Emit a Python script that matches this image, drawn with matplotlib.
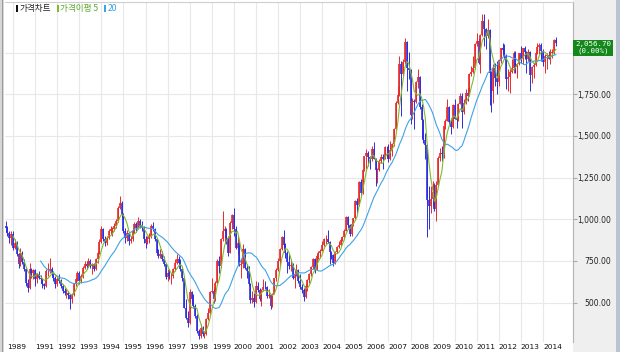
import numpy as np
import pandas as pd
import matplotlib
matplotlib.use("Agg")
import matplotlib.pyplot as plt
from matplotlib.patches import Rectangle
from matplotlib.transforms import blended_transform_factory

# Monthly index bars, Sep 1989 .. Aug 2014
START = "1989-09"

opens = [
    960, 947, 917, 885,
    910, 830, 855, 790, 730, 800, 745, 700, 620, 585, 700, 675,
    696, 640, 670, 650, 640, 610, 600, 690, 690, 700, 680, 650,
    610, 640, 630, 600, 570, 560, 560, 545, 520, 545, 610, 640,
    678, 630, 660, 710, 730, 720, 750, 720, 730, 700, 760, 800,
    866, 940, 880, 860, 890, 930, 940, 940, 960, 990, 1070, 1100,
    1027, 930, 890, 920, 870, 880, 930, 970, 950, 990, 960, 950,
    882, 860, 880, 900, 960, 940, 880, 800, 780, 790, 760, 730,
    651, 680, 660, 660, 700, 740, 760, 740, 700, 650, 470, 410,
    376, 565, 520, 480, 420, 330, 300, 350, 310, 310, 400, 440,
    562, 570, 520, 620, 750, 720, 880, 930, 940, 890, 800, 980,
    1028, 943, 828, 860, 725, 731, 822, 705, 688, 613, 514, 526,
    504, 602, 574, 523, 578, 596, 595, 542, 545, 479, 552, 646,
    694, 752, 823, 894, 847, 797, 743, 718, 726, 646, 669, 695,
    628, 592, 575, 535, 600, 634, 670, 711, 760, 697, 779, 796,
    810, 848, 880, 880, 863, 803, 785, 735, 803, 835, 845, 878,
    896, 932, 1011, 965, 911, 970, 1008, 1112, 1083, 1221, 1158, 1297,
    1379, 1399, 1371, 1359, 1419, 1364, 1295, 1297, 1352, 1371, 1364, 1432,
    1434, 1360, 1417, 1453, 1542, 1700, 1744, 1933, 1873, 1946, 2065, 1906,
    1897, 1625, 1712, 1704, 1825, 1853, 1674, 1595, 1474, 1448, 1113, 1077,
    1124, 1162, 1063, 1206, 1369, 1396, 1390, 1557, 1592, 1673, 1581, 1555,
    1683, 1602, 1594, 1692, 1741, 1641, 1698, 1759, 1742, 1873, 1883, 1905,
    2051, 2069, 1939, 2107, 2192, 2142, 2101, 2133, 1880, 1770, 1910, 1848,
    1826, 1956, 2030, 2014, 1982, 1844, 1854, 1881, 1906, 1996, 1912, 1933,
    1997, 1962, 2027, 2005, 1964, 2001, 1863, 1914, 1926, 1997, 2031, 2045,
    2011, 1941, 1980, 1986, 1962, 1995, 2002, 2076,
]
highs = [
    990, 960, 930, 930,
    928, 880, 870, 800, 830, 810, 760, 705, 640, 740, 710, 700,
    700, 680, 690, 665, 650, 620, 700, 740, 770, 712, 690, 660,
    660, 670, 640, 610, 590, 580, 570, 550, 560, 620, 650, 690,
    690, 670, 720, 750, 750, 770, 760, 740, 740, 770, 810, 880,
    960, 950, 900, 900, 940, 960, 955, 975, 1000, 1080, 1138, 1110,
    1040, 950, 935, 925, 900, 940, 985, 985, 1016, 1000, 990, 960,
    900, 900, 920, 970, 986, 950, 890, 820, 820, 810, 780, 740,
    700, 700, 680, 710, 760, 792, 780, 760, 710, 660, 520, 450,
    580, 570, 550, 490, 430, 340, 370, 360, 330, 410, 470, 570,
    650, 590, 630, 760, 780, 890, 1052, 960, 950, 900, 990, 1030,
    1066, 960, 900, 870, 760, 850, 830, 730, 720, 620, 570, 560,
    630, 625, 590, 580, 640, 630, 600, 580, 550, 560, 650, 710,
    770, 830, 900, 937, 860, 810, 800, 760, 740, 690, 730, 700,
    670, 610, 590, 610, 640, 680, 720, 770, 770, 790, 810, 820,
    870, 890, 905, 936, 870, 810, 790, 810, 840, 870, 890, 900,
    940, 1020, 1022, 970, 975, 1010, 1115, 1130, 1230, 1240, 1300, 1380,
    1421, 1410, 1380, 1440, 1465, 1370, 1310, 1360, 1390, 1390, 1440, 1440,
    1450, 1470, 1460, 1550, 1710, 1800, 1980, 1950, 1960, 2085, 2070, 2005,
    1900, 1730, 1720, 1830, 1900, 1860, 1690, 1600, 1520, 1450, 1200, 1200,
    1230, 1220, 1230, 1380, 1430, 1440, 1560, 1600, 1720, 1680, 1610, 1690,
    1720, 1620, 1700, 1760, 1760, 1720, 1780, 1790, 1880, 1920, 1980, 2060,
    2120, 2090, 2110, 2230, 2231, 2150, 2200, 2140, 1890, 1930, 1940, 1950,
    1960, 2030, 2057, 2050, 1990, 1900, 1900, 1960, 2010, 2010, 1940, 2000,
    2040, 2030, 2040, 2010, 2020, 2010, 1920, 1940, 2010, 2060, 2060, 2060,
    2020, 1990, 2000, 2010, 2020, 2020, 2082, 2093,
]
lows = [
    925, 900, 860, 845,
    815, 820, 780, 705, 720, 730, 690, 600, 566, 580, 650, 640,
    600, 620, 640, 615, 590, 580, 595, 660, 675, 660, 630, 590,
    600, 615, 590, 555, 545, 530, 520, 459, 500, 540, 600, 630,
    610, 620, 650, 700, 700, 715, 705, 670, 690, 695, 740, 790,
    860, 870, 840, 845, 880, 910, 900, 930, 950, 985, 1060, 1010,
    920, 860, 870, 847, 855, 870, 920, 930, 940, 950, 930, 860,
    830, 850, 860, 890, 930, 870, 790, 770, 765, 750, 720, 640,
    630, 640, 610, 650, 690, 730, 730, 690, 630, 470, 400, 351,
    370, 490, 470, 410, 320, 280, 290, 300, 290, 305, 395, 430,
    560, 500, 510, 610, 680, 710, 870, 860, 850, 780, 795, 940,
    900, 820, 790, 720, 650, 710, 700, 650, 600, 500, 495, 475,
    500, 565, 510, 480, 570, 580, 530, 530, 463, 475, 550, 630,
    690, 720, 815, 830, 770, 680, 700, 690, 640, 585, 660, 620,
    580, 560, 512, 530, 570, 620, 660, 700, 680, 695, 760, 770,
    810, 840, 850, 860, 730, 760, 719, 730, 800, 830, 840, 870,
    880, 930, 950, 900, 900, 960, 1000, 1040, 1080, 1140, 1150, 1290,
    1300, 1320, 1300, 1350, 1360, 1200, 1220, 1290, 1340, 1300, 1360, 1370,
    1345, 1355, 1380, 1440, 1540, 1690, 1740, 1620, 1860, 1930, 1770, 1840,
    1570, 1600, 1540, 1700, 1790, 1660, 1490, 1460, 1360, 892, 940, 1040,
    1080, 1050, 990, 1200, 1350, 1350, 1370, 1540, 1590, 1570, 1510, 1550,
    1600, 1550, 1590, 1690, 1550, 1630, 1690, 1710, 1740, 1860, 1880, 1900,
    2040, 1930, 1880, 2100, 2040, 2020, 2090, 1684, 1644, 1700, 1800, 1750,
    1800, 1940, 1990, 1960, 1780, 1770, 1760, 1880, 1880, 1880, 1850, 1925,
    1940, 1930, 1960, 1880, 1950, 1770, 1820, 1850, 1920, 1990, 1990, 1950,
    1920, 1880, 1900, 1960, 1930, 1970, 1990, 2040,
]
closes = [
    947, 917, 885, 910,
    830, 855, 790, 730, 800, 745, 700, 620, 585, 700, 675, 696,
    640, 670, 650, 640, 610, 600, 690, 690, 700, 680, 650, 610,
    640, 630, 600, 570, 560, 560, 545, 520, 545, 610, 640, 678,
    630, 660, 710, 730, 720, 750, 720, 730, 700, 760, 800, 866,
    940, 880, 860, 890, 930, 940, 940, 960, 990, 1070, 1100, 1027,
    930, 890, 920, 870, 880, 930, 970, 950, 990, 960, 950, 882,
    860, 880, 900, 960, 940, 880, 800, 780, 790, 760, 730, 651,
    680, 660, 660, 700, 740, 760, 740, 700, 650, 470, 410, 376,
    565, 520, 480, 420, 330, 300, 350, 310, 310, 400, 440, 562,
    570, 520, 620, 750, 720, 880, 930, 940, 890, 800, 980, 1028,
    943, 828, 860, 725, 731, 822, 705, 688, 613, 514, 526, 504,
    602, 574, 523, 578, 596, 595, 542, 545, 479, 552, 646, 694,
    752, 823, 894, 847, 797, 743, 718, 726, 646, 669, 695, 628,
    592, 575, 535, 600, 634, 670, 711, 760, 697, 779, 796, 810,
    848, 880, 880, 863, 803, 785, 735, 803, 835, 845, 878, 896,
    932, 1011, 965, 911, 970, 1008, 1112, 1083, 1221, 1158, 1297, 1379,
    1399, 1371, 1359, 1419, 1364, 1295, 1297, 1352, 1371, 1364, 1432, 1434,
    1360, 1417, 1453, 1542, 1700, 1744, 1933, 1873, 1946, 2065, 1906, 1897,
    1625, 1712, 1704, 1825, 1853, 1674, 1595, 1474, 1448, 1113, 1077, 1124,
    1162, 1063, 1206, 1369, 1396, 1390, 1557, 1592, 1673, 1581, 1555, 1683,
    1602, 1594, 1692, 1741, 1641, 1698, 1759, 1742, 1873, 1883, 1905, 2051,
    2069, 1939, 2107, 2192, 2142, 2101, 2133, 1880, 1770, 1910, 1848, 1826,
    1956, 2030, 2014, 1982, 1844, 1854, 1881, 1906, 1996, 1912, 1933, 1997,
    1962, 2027, 2005, 1964, 2001, 1863, 1914, 1926, 1997, 2031, 2045, 2011,
    1941, 1980, 1986, 1962, 1995, 2002, 2076, 2056.7,
]

last_price = 2056.70
last_change = 0.00
y_ticks = [500, 750, 1000, 1250, 1500, 1750, 2000]

W, H = 620, 352
UP, DOWN = "#e82a2a", "#2e2edc"
MA5_C, MA20_C = "#7dbb2e", "#3ea3e4"
KR = ["Noto Sans CJK KR", "DejaVu Sans"]
LBL = "DejaVu Sans"


def main():
    dates = pd.date_range(START, periods=len(closes), freq="MS")
    df = pd.DataFrame({"o": opens, "h": highs, "l": lows, "c": closes}, index=dates)
    idx = np.arange(len(df))
    up = df["c"] >= df["o"]
    cols = np.where(up, UP, DOWN)

    fig = plt.figure(figsize=(W / 100, H / 100), dpi=100, facecolor="white")

    # right price-scale panel and borders
    fig.add_artist(Rectangle((573 / W, 0), 43 / W, 1, transform=fig.transFigure,
                             facecolor="#efefef", edgecolor="none", zorder=0))
    fig.add_artist(Rectangle((616 / W, 0), 4 / W, 1, transform=fig.transFigure,
                             facecolor="#b9c3d3", edgecolor="none", zorder=0))
    fig.add_artist(Rectangle((0, 0), 4 / W, 1, transform=fig.transFigure,
                             facecolor="#d6d6d6", edgecolor="none", zorder=0))
    fig.add_artist(Rectangle((1.5 / W, 0), 1 / W, 1, transform=fig.transFigure,
                             facecolor="#9a9a9a", edgecolor="none", zorder=0))

    ax = fig.add_axes([5 / W, 1 - 342 / H, 568 / W, 340 / H])
    ax.set_facecolor("white")

    # candles: wick + body
    ax.vlines(idx, df["l"], df["h"], colors=cols, linewidth=0.7, zorder=2)
    ax.vlines(idx, np.minimum(df["o"], df["c"]), np.maximum(df["o"], df["c"]),
              colors=cols, linewidth=1.2, zorder=2)

    ma5 = df["c"].rolling(5).mean()
    ma20 = df["c"].rolling(20).mean()
    ax.plot(idx, ma20, color=MA20_C, linewidth=0.8, zorder=3)
    ax.plot(idx, ma5, color=MA5_C, linewidth=0.8, zorder=4)

    ax.set_xlim(-0.35, 308.3)
    ax.set_ylim(264, 2303)

    # year gridlines at each January
    jan = [i for i, d in enumerate(dates) if d.month == 1]
    ax.set_xticks(jan)
    ax.set_xticklabels(["" if dates[i].year == 1990 else str(dates[i].year) for i in jan],
                       ha="left", fontsize=5.4, family=LBL, color="#111111")
    ax.tick_params(axis="x", length=0, pad=1.5)
    trans = blended_transform_factory(ax.transData, ax.transAxes)
    ax.text(0.7, -0.0058, str(dates[0].year), transform=trans, ha="left", va="top",
            fontsize=5.4, family=LBL, color="#111111")

    ax.yaxis.tick_right()
    ax.set_yticks(y_ticks)
    ax.set_yticklabels(["" if v == 2000 else f"{v:,.2f}" for v in y_ticks],
                       ha="right", fontsize=5.5, family=LBL, color="#222222")
    ax.tick_params(axis="y", length=3, color="#a8a8a8", pad=24.5)

    ax.grid(True, color="#e8e8e8", linewidth=0.8, zorder=0)
    ax.set_axisbelow(True)
    for side in ("left", "bottom"):
        ax.spines[side].set_visible(False)
    ax.spines["right"].set_color("#b4b4b4")
    ax.spines["top"].set_color("#cfcfcf")
    for s in ("right", "top"):
        ax.spines[s].set_linewidth(0.8)

    # current price box
    ytr = blended_transform_factory(ax.transAxes, ax.transData)
    ax.text(1.0352, 2028, f"{last_price:,.2f}\n({last_change:.2f}%)", transform=ytr,
            ha="center", va="center", fontsize=5.4, family="DejaVu Sans Mono",
            color="white", linespacing=1.1, clip_on=False, zorder=6,
            bbox=dict(boxstyle="square,pad=0.25", facecolor="#12891a", edgecolor="none"))

    # legend strip
    items = [(15.5, "#111111", 20, "가격차트", "#222222"),
             (56.5, MA5_C, 60, "가격이평 5", "#5aa72a"),
             (103.5, MA20_C, 107.5, "20", "#3a9de0")]
    for mx, mc, tx, label, tc in items:
        fig.add_artist(Rectangle((mx / W, 1 - 11.5 / H), 2 / W, 6 / H,
                                 transform=fig.transFigure, facecolor=mc, edgecolor="none"))
        fig.text(tx / W, 1 - 8.2 / H, label, ha="left", va="center", fontsize=6.2,
                 family=KR, color=tc)

    fig.savefig("out.png", dpi=100, facecolor="white")


if __name__ == "__main__":
    main()
